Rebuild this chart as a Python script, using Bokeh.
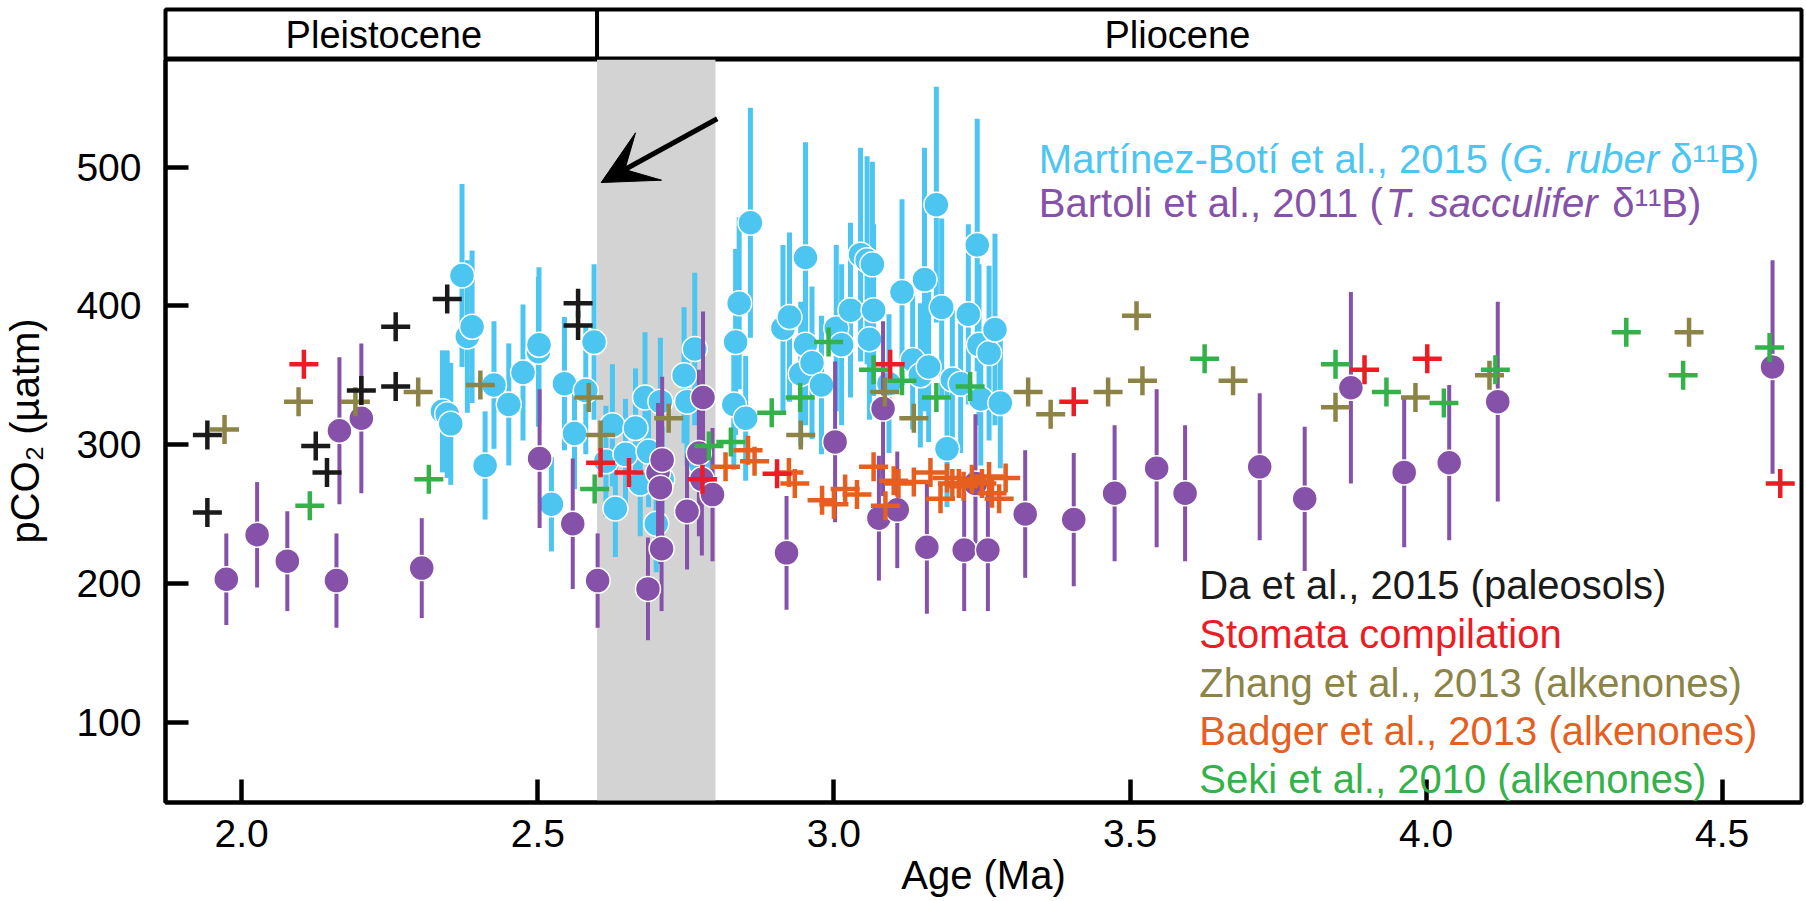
from bokeh.plotting import figure
from bokeh.layouts import column
from bokeh.models import (Range1d, FixedTicker, PrintfTickFormatter, BoxAnnotation,
                          Span, Label, Arrow, VeeHead, ColumnDataSource)
from bokeh.core.properties import value
from bokeh.embed import file_html
from bokeh.resources import INLINE

FONT = "Liberation Sans"

# ---------------- data ----------------
# Martinez-Boti et al., 2015 (G. ruber d11B)
mb_age = [2.339, 2.347, 2.353, 2.372, 2.381, 2.389, 2.411, 2.426, 2.451, 2.475, 2.501, 2.502, 2.523, 2.545, 2.562, 2.581, 2.595,
          2.615, 2.626, 2.631, 2.648, 2.665, 2.673, 2.681, 2.687, 2.700, 2.707, 2.710, 2.747, 2.752, 2.765, 2.775,
          2.831, 2.834, 2.840, 2.851, 2.859, 2.914, 2.925, 2.944, 2.952, 2.952, 2.963, 2.979, 3.004, 3.013, 3.028,
          3.045, 3.056, 3.065, 3.060, 3.067, 3.093, 3.115, 3.133, 3.146, 3.153, 3.160, 3.173, 3.182, 3.191, 3.200,
          3.214, 3.227, 3.242, 3.245, 3.262, 3.248, 3.272, 3.281]
mb_co2 = [324, 322, 315, 422, 378, 385, 285, 343, 329, 352, 367, 372, 257, 344, 308, 339, 374,
          288, 314, 254, 293, 312, 272, 334, 295, 243, 331, 275, 350, 331, 369, 286,
          329, 374, 402, 319, 460, 384, 392, 351, 435, 372, 359, 343, 384, 372, 397,
          437, 433, 430, 376, 397, 344, 410, 361, 350, 419, 356, 473, 399, 297, 347,
          344, 394, 444, 372, 366, 333, 383, 330]
mb_err = [44, 46, 44, 66, 55, 55, 39, 46, 44, 49, 54, 56, 34, 48, 40, 46, 56,
          40, 44, 35, 40, 43, 38, 47, 40, 35, 46, 38, 49, 46, 55, 40,
          47, 67, 62, 45, 83, 60, 61, 52, 83, 58, 55, 50, 60, 58, 63,
          77, 75, 74, 58, 62, 50, 67, 50, 52, 95, 54, 85, 64, 42, 52,
          50, 65, 91, 58, 63, 48, 69, 47]

# Bartoli et al., 2011 (T. sacculifer d11B)
ba_age = [1.974, 2.026, 2.077, 2.160, 2.165, 2.202, 2.304, 2.503, 2.559, 2.601, 2.686, 2.703, 2.707, 2.710,
          2.709, 2.752, 2.772, 2.779, 2.777, 2.795, 2.920, 3.002, 3.083, 3.076, 3.107, 3.157, 3.220, 3.260,
          3.239, 3.323, 3.405, 3.474, 3.545, 3.593, 3.719, 3.795, 3.873, 3.963, 4.039, 4.121, 4.585]
ba_co2 = [203, 235, 216, 202, 310, 319, 211, 290, 243, 202, 196, 280, 269, 289,
          225, 252, 294, 334, 275, 264, 222, 302, 326, 247, 253, 226, 224, 224,
          272, 250, 246, 265, 283, 265, 284, 261, 341, 280, 287, 331, 356]
ba_err = [33, 38, 36, 34, 53, 54, 36, 50, 47, 34, 37, 50, 55, 60,
          45, 42, 60, 62, 55, 48, 41, 58, 63, 45, 42, 48, 44, 44,
          50, 46, 48, 49, 57, 49, 53, 52, 69, 54, 56, 72, 77]

# Da et al., 2015 (paleosols)
da_age = [1.942, 1.942, 2.125, 2.144, 2.202, 2.260, 2.260, 2.347, 2.568, 2.568]
da_co2 = [307, 251, 299, 280, 339, 385, 342, 405, 402, 386]

# Stomata compilation
st_age = [2.105, 2.606, 2.654, 2.778, 2.904, 3.095, 3.405, 3.896, 4.002, 4.598]
st_co2 = [358, 287, 280, 275, 279, 358, 331, 354, 362, 272]

# Zhang et al., 2013 (alkenones)
zh_age = [1.971, 2.096, 2.192, 2.298, 2.403, 2.586, 2.606, 2.721, 2.944, 3.086, 3.135, 3.328, 3.366,
          3.463, 3.511, 3.521, 3.674, 3.847, 3.982, 4.107, 4.444]
zh_co2 = [311, 331, 331, 338, 343, 334, 307, 319, 307, 338, 319, 338, 322,
          338, 393, 346, 346, 327, 334, 350, 381]

# Badger et al., 2013 (alkenones)
bd_age = [2.817, 2.855, 2.866, 2.924, 2.934, 2.980, 3.000, 3.019, 3.039, 3.067, 3.087, 3.101, 3.109,
          3.135, 3.163, 3.180, 3.191, 3.200, 3.211, 3.219, 3.233, 3.250, 3.262, 3.267, 3.279, 3.290]
bd_co2 = [284, 296, 288, 280, 272, 260, 257, 268, 264, 284, 256, 274, 272,
          273, 280, 261, 276, 272, 272, 270, 275, 272, 277, 265, 261, 276]

# Seki et al., 2010 (alkenones)
sk_age = [2.115, 2.316, 2.596, 2.789, 2.826, 2.895, 2.943, 2.991, 3.067, 3.115, 3.173, 3.230,
          3.626, 3.847, 3.933, 4.030, 4.117, 4.338, 4.434, 4.580]
sk_co2 = [256, 275, 268, 299, 302, 323, 334, 374, 354, 346, 334, 342,
          362, 358, 338, 330, 354, 381, 350, 370]

# epochs, shading, arrow
epoch_names = ["Pleistocene", "Pliocene"]
epoch_boundary = 2.6
epoch_label_age = [2.24, 3.58]
shade_age = [2.6, 2.8]
arrow_age = [2.803, 2.607]
arrow_co2 = [535, 489]

x_ticks = [2.0, 2.5, 3.0, 3.5, 4.0, 4.5]
y_ticks = [100, 200, 300, 400, 500]
x_lim = [1.8713, 4.6339]
y_lim = [42.0, 577.7]

# ---------------- colours ----------------
BLUE = "#4cc5f1"
PURPLE = "#8551a9"
BLACK = "#1a1a1a"
RED = "#ec1c24"
OLIVE = "#8b8446"
ORANGE = "#e65f1f"
GREEN = "#34b24a"

# ---------------- main figure ----------------
FRAME_W, FRAME_H = 1636, 743
p = figure(frame_width=FRAME_W, frame_height=FRAME_H,
           x_range=Range1d(*x_lim), y_range=Range1d(*y_lim),
           min_border_left=160, min_border_right=10, min_border_top=0, min_border_bottom=99,
           output_backend="svg", toolbar_location=None,
           outline_line_color="black", outline_line_width=4, outline_line_alpha=1)
p.grid.grid_line_color = None

p.add_layout(BoxAnnotation(left=shade_age[0], right=shade_age[1], fill_color="#d3d3d3",
                           fill_alpha=1.0, line_color=None, level="underlay"))

mb_src = ColumnDataSource(dict(x=mb_age, y=mb_co2,
                               lo=[v - e for v, e in zip(mb_co2, mb_err)],
                               hi=[v + e for v, e in zip(mb_co2, mb_err)]))
ba_src = ColumnDataSource(dict(x=ba_age, y=ba_co2,
                               lo=[v - e for v, e in zip(ba_co2, ba_err)],
                               hi=[v + e for v, e in zip(ba_co2, ba_err)]))

p.segment(x0="x", y0="lo", x1="x", y1="hi", source=mb_src, line_color=BLUE, line_width=5)
p.scatter(x="x", y="y", source=mb_src, marker="circle", size=25,
          fill_color=BLUE, line_color="white", line_width=1.5)
p.segment(x0="x", y0="lo", x1="x", y1="hi", source=ba_src, line_color=PURPLE, line_width=4)
p.scatter(x="x", y="y", source=ba_src, marker="circle", size=25,
          fill_color=PURPLE, line_color="white", line_width=1.5)

for ages, vals, col in [(zh_age, zh_co2, OLIVE), (bd_age, bd_co2, ORANGE),
                        (sk_age, sk_co2, GREEN), (st_age, st_co2, RED),
                        (da_age, da_co2, BLACK)]:
    p.scatter(ages, vals, marker="cross", size=29, line_color=col, line_width=4.5)

p.add_layout(Arrow(end=VeeHead(size=54, fill_color="black", line_color="black", line_width=1),
                   x_start=arrow_age[0], y_start=arrow_co2[0],
                   x_end=arrow_age[1], y_end=arrow_co2[1],
                   line_color="black", line_width=5))

# axes (inward ticks)
for ax in (p.xaxis, p.yaxis):
    ax.axis_line_width = 4
    ax.axis_line_color = "black"
    ax.major_tick_in = 23
    ax.major_tick_out = 0
    ax.major_tick_line_color = "black"
    ax.major_tick_line_width = 4.5
    ax.minor_tick_line_color = None
    ax.major_label_text_font = FONT
    ax.major_label_text_font_size = "39px"
    ax.major_label_text_color = "black"
    ax.axis_label_text_font = FONT
    ax.axis_label_text_font_size = "40px"
    ax.axis_label_text_font_style = "normal"
    ax.axis_label_text_color = "black"

p.xaxis.ticker = FixedTicker(ticks=x_ticks)
p.xaxis.formatter = PrintfTickFormatter(format="%.1f")
p.xaxis.major_label_standoff = 17
p.xaxis.axis_label = "Age (Ma)"
p.xaxis.axis_label_standoff = 3

p.yaxis.ticker = FixedTicker(ticks=y_ticks)
p.yaxis.major_label_standoff = 24
p.yaxis.axis_label = "pCO\u2082 (\u00b5atm)"
p.yaxis.axis_label_standoff = 26

# ---------------- legend texts ----------------
ARIAL_W = {' ': 278, '(': 333, ')': 333, ',': 278, '-': 333, '.': 278, 'B': 667, 'M': 833, 'G': 778,
           'T': 611, 'a': 556, 'b': 556, 'c': 500, 'e': 556, 'f': 278, 'i': 222, 'l': 222, 'n': 556,
           'o': 556, 'r': 333, 's': 500, 't': 278, 'u': 556, 'z': 500, '\u00ed': 278, '\u03b4': 556,
           '\u00b9': 333}


def text_width(s, size):
    return sum(ARIAL_W.get(c, 556) for c in s) * size / 1000.0


def rich_label(x, y, pieces, color, size=40):
    off = 0.0
    for txt, style in pieces:
        lead = len(txt) - len(txt.lstrip(" "))
        off += text_width(" " * lead, size)
        body = txt.lstrip(" ")
        p.add_layout(Label(x=x, y=y, x_offset=off, text=body, text_font=FONT,
                           text_font_size=f"{size}px", text_font_style=style,
                           text_color=color, text_baseline="alphabetic", text_align="left"))
        off += text_width(body, size)


legend_top_x = 3.346
legend_top_y = [505.8, 474.0]
rich_label(legend_top_x, legend_top_y[0],
           [("Mart\u00ednez-Bot\u00ed et al., 2015 (", "normal"), ("G. ruber", "italic"),
            (" \u03b4\u00b9\u00b9B)", "normal")], BLUE)
rich_label(legend_top_x, legend_top_y[1],
           [("Bartoli et al., 2011 (", "normal"), ("T. sacculifer", "italic"),
            (" \u03b4\u00b9\u00b9B)", "normal")], PURPLE)

legend_bot_x = 3.617
legend_bot_y = [198.5, 163.5, 128.5, 93.6, 58.6]
legend_bot_text = ["Da et al., 2015 (paleosols)", "Stomata compilation",
                   "Zhang et al., 2013 (alkenones)", "Badger et al., 2013 (alkenones)",
                   "Seki et al., 2010 (alkenones)"]
legend_bot_color = [BLACK, RED, OLIVE, ORANGE, GREEN]
for yy, tt, cc in zip(legend_bot_y, legend_bot_text, legend_bot_color):
    p.add_layout(Label(x=legend_bot_x, y=yy, text=tt, text_font=FONT, text_font_size="40px",
                       text_color=cc, text_baseline="alphabetic", text_align="left"))

# ---------------- epoch band ----------------
band = figure(frame_width=FRAME_W, frame_height=50, x_range=p.x_range, y_range=Range1d(0, 1),
              min_border_left=160, min_border_right=10, min_border_top=9, min_border_bottom=0,
              x_axis_location=None, y_axis_location=None,
              output_backend="svg", toolbar_location=None,
              outline_line_color="black", outline_line_width=4, outline_line_alpha=1)
band.grid.visible = False
band.add_layout(Span(location=epoch_boundary, dimension="height", line_color="black", line_width=4))
band.text(x=epoch_label_age, y=[0.5] * len(epoch_names), text=epoch_names,
          text_align="center", text_baseline="middle", text_font=value(FONT),
          text_font_size="38px", text_color="black")

layout = column(band, p, spacing=0)
open("out.html", "w").write(file_html(layout, INLINE))
